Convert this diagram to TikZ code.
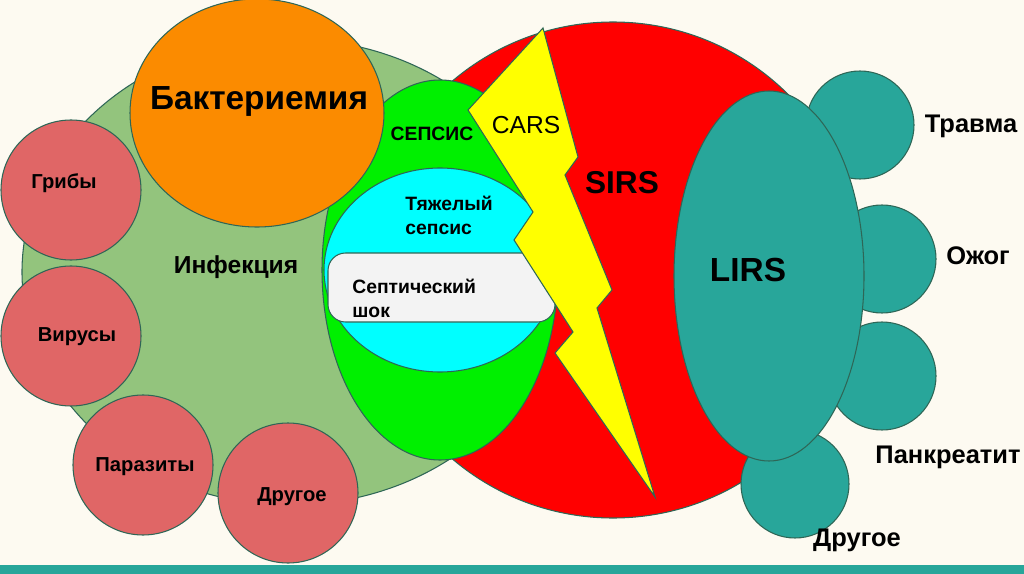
\documentclass[tikz,border=0pt]{standalone}
\usepackage{fontspec}
\setmainfont{Liberation Sans}
\definecolor{paper}{HTML}{FDFAF1}
\definecolor{infect}{HTML}{93C47D}
\definecolor{germ}{HTML}{E06666}
\definecolor{bact}{HTML}{FB8B00}
\definecolor{sirs}{HTML}{FF0000}
\definecolor{sepsis}{HTML}{00F000}
\definecolor{severe}{HTML}{00FFFF}
\definecolor{shock}{HTML}{F3F3F3}
\definecolor{bolt}{HTML}{FFFF00}
\definecolor{lirs}{HTML}{28A69A}
\definecolor{rim}{HTML}{2E6656}

\begin{document}
\begin{tikzpicture}[x=0.02cm, y=-0.02cm,
  blob/.style={draw=rim, line width=0.6pt},
  germlbl/.style={font=\bfseries\fontsize{11.5}{13}\selectfont, inner sep=0pt},
  causelbl/.style={font=\bfseries\fontsize{14.5}{17}\selectfont, inner sep=0pt},
  inlbl/.style={font=\bfseries\fontsize{11}{13.6}\selectfont, inner sep=0pt, align=left},
  biglbl/.style={font=\bfseries\fontsize{19}{22}\selectfont, inner sep=0pt},
]
  \useasboundingbox (0,0) rectangle (1024,574);
  \fill[paper] (0,0) rectangle (1024,574);
  \fill[lirs] (0,565) rectangle (1024,574);

  % infection and its causes
  \filldraw[blob,fill=infect] (290,272) ellipse [x radius=268, y radius=233];
  \foreach \cx/\cy in {71/190, 71/336, 143/465, 288/493}
    \filldraw[blob,fill=germ] (\cx,\cy) circle [radius=70];

  % SIRS
  \filldraw[blob,fill=sirs] (613,270) circle [radius=248];

  % sepsis levels
  \filldraw[blob,fill=sepsis] (440,270) ellipse [x radius=118, y radius=190];
  \filldraw[blob,fill=severe] (440,270) ellipse [x radius=116, y radius=102];
  \filldraw[blob,fill=shock,rounded corners=10] (328,253) rectangle (555,322);

  \filldraw[blob,fill=bact] (257,113) ellipse [x radius=127, y radius=114];

  % CARS bolt
  \filldraw[blob,fill=bolt] (543,28) -- (578,157) -- (565,175) -- (612,290) -- (597,308)
    -- (655,497) -- (555,353) -- (573,332) -- (514,240) -- (533,212) -- (468,110) -- cycle;

  % LIRS and its causes
  \foreach \cx/\cy in {860/125, 882/259, 882/376, 795/484}
    \filldraw[blob,fill=lirs] (\cx,\cy) circle [radius=54];
  \filldraw[blob,fill=lirs] (769,276) ellipse [x radius=95, y radius=185];

  % labels
  \node[biglbl] (bacteremia) at (259,101) {Бактериемия};
  \node[font=\bfseries\fontsize{14}{16}\selectfont, inner sep=0pt] (infection) at (236,267) {Инфекция};
  \node[germlbl] (fungi) at (64,183) {Грибы};
  \node[germlbl] (viruses) at (77,337) {Вирусы};
  \node[germlbl] (parasites) at (145,467) {Паразиты};
  \node[germlbl] (othergerm) at (292,497) {Другое};

  \node[inlbl] (sepsislbl) at (432,134) {СЕПСИС};
  \node[inlbl,anchor=west] (severelbl) at (405,215) {Тяжелый\\сепсис};
  \node[inlbl,anchor=west] (shocklbl) at (352,298) {Септический\\шок};
  \node[font=\fontsize{14}{16}\selectfont, inner sep=0pt] (cars) at (526,125) {CARS};
  \node[font=\bfseries\fontsize{18}{20}\selectfont, inner sep=0pt] (sirslbl) at (622,183) {SIRS};
  \node[font=\bfseries\fontsize{19}{22}\selectfont, inner sep=0pt] (lirslbl) at (748,270) {LIRS};

  \node[causelbl] (trauma) at (971,126) {Травма};
  \node[causelbl] (burn) at (978,256) {Ожог};
  \node[causelbl] (pancreatitis) at (948,457) {Панкреатит};
  \node[causelbl] (othercause) at (857,540) {Другое};
\end{tikzpicture}
\end{document}
